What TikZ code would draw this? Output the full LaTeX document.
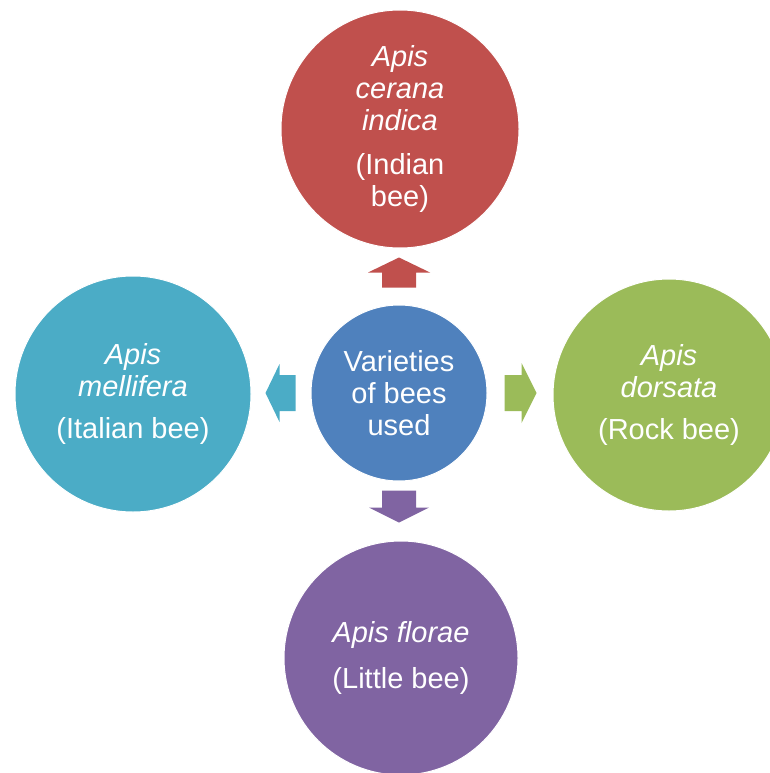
\documentclass[tikz,border=0pt]{standalone}
\usepackage{fontspec}
\setmainfont{Liberation Sans}
\usetikzlibrary{calc}
\definecolor{beered}{HTML}{C0504D}
\definecolor{beeteal}{HTML}{4BACC6}
\definecolor{beeblue}{HTML}{4F81BD}
\definecolor{beegreen}{HTML}{9BBB59}
\definecolor{beepurple}{HTML}{8064A2}
\tikzstyle{bee}=[circle, draw=white, line width=1pt, text=white, align=center, inner sep=0pt, font=\fontsize{29}{32}\selectfont]
\tikzstyle{blockarrow}=[line width=0pt]

\begin{document}
\begin{tikzpicture}[x=1pt, y=-1pt]
	\clip (0,0) rectangle (770,773);
	% circles
	\node[bee, fill=beeblue, minimum size=176pt] (hub) at (399,393) {Varieties\\of bees\\used};
	\node[bee, fill=beered, minimum size=238pt] (cerana) at (400,129) {\textit{Apis}\\\textit{cerana}\\\textit{indica}\\[12pt](Indian\\bee)};
	\node[bee, fill=beeteal, minimum size=236pt] (mellifera) at (133,394) {\textit{Apis}\\\textit{mellifera}\\[10pt](Italian bee)};
	\node[bee, fill=beegreen, minimum size=232pt] (dorsata) at (669,395) {\textit{Apis}\\\textit{dorsata}\\[10pt](Rock bee)};
	\node[bee, fill=beepurple, minimum size=234pt] (florae) at (401,658) {\textit{Apis florae}\\[14pt](Little bee)};
	% arrows
	\coordinate (toup) at ([yshift=17pt]hub.north);
	\coordinate (toleft) at ([xshift=-15pt]hub.west);
	\coordinate (toright) at ([xshift=17pt]hub.east);
	\coordinate (todown) at ([yshift=-9pt]hub.south);
	\fill[blockarrow, beered, shift={(toup)}, rotate=90] (0,-17) -- (15,-17) -- (15,-31) -- (30,0) -- (15,31) -- (15,17) -- (0,17) -- cycle;
	\fill[blockarrow, beeteal, shift={(toleft)}, rotate=180] (0,-18) -- (16,-18) -- (16,-29) -- (30,0) -- (16,29) -- (16,18) -- (0,18) -- cycle;
	\fill[blockarrow, beegreen, shift={(toright)}] (0,-18) -- (17,-18) -- (17,-30) -- (32,0) -- (17,30) -- (17,18) -- (0,18) -- cycle;
	\fill[blockarrow, beepurple, shift={(todown)}, rotate=-90] (0,-17) -- (17,-17) -- (17,-30) -- (32,0) -- (17,30) -- (17,17) -- (0,17) -- cycle;
\end{tikzpicture}
\end{document}
